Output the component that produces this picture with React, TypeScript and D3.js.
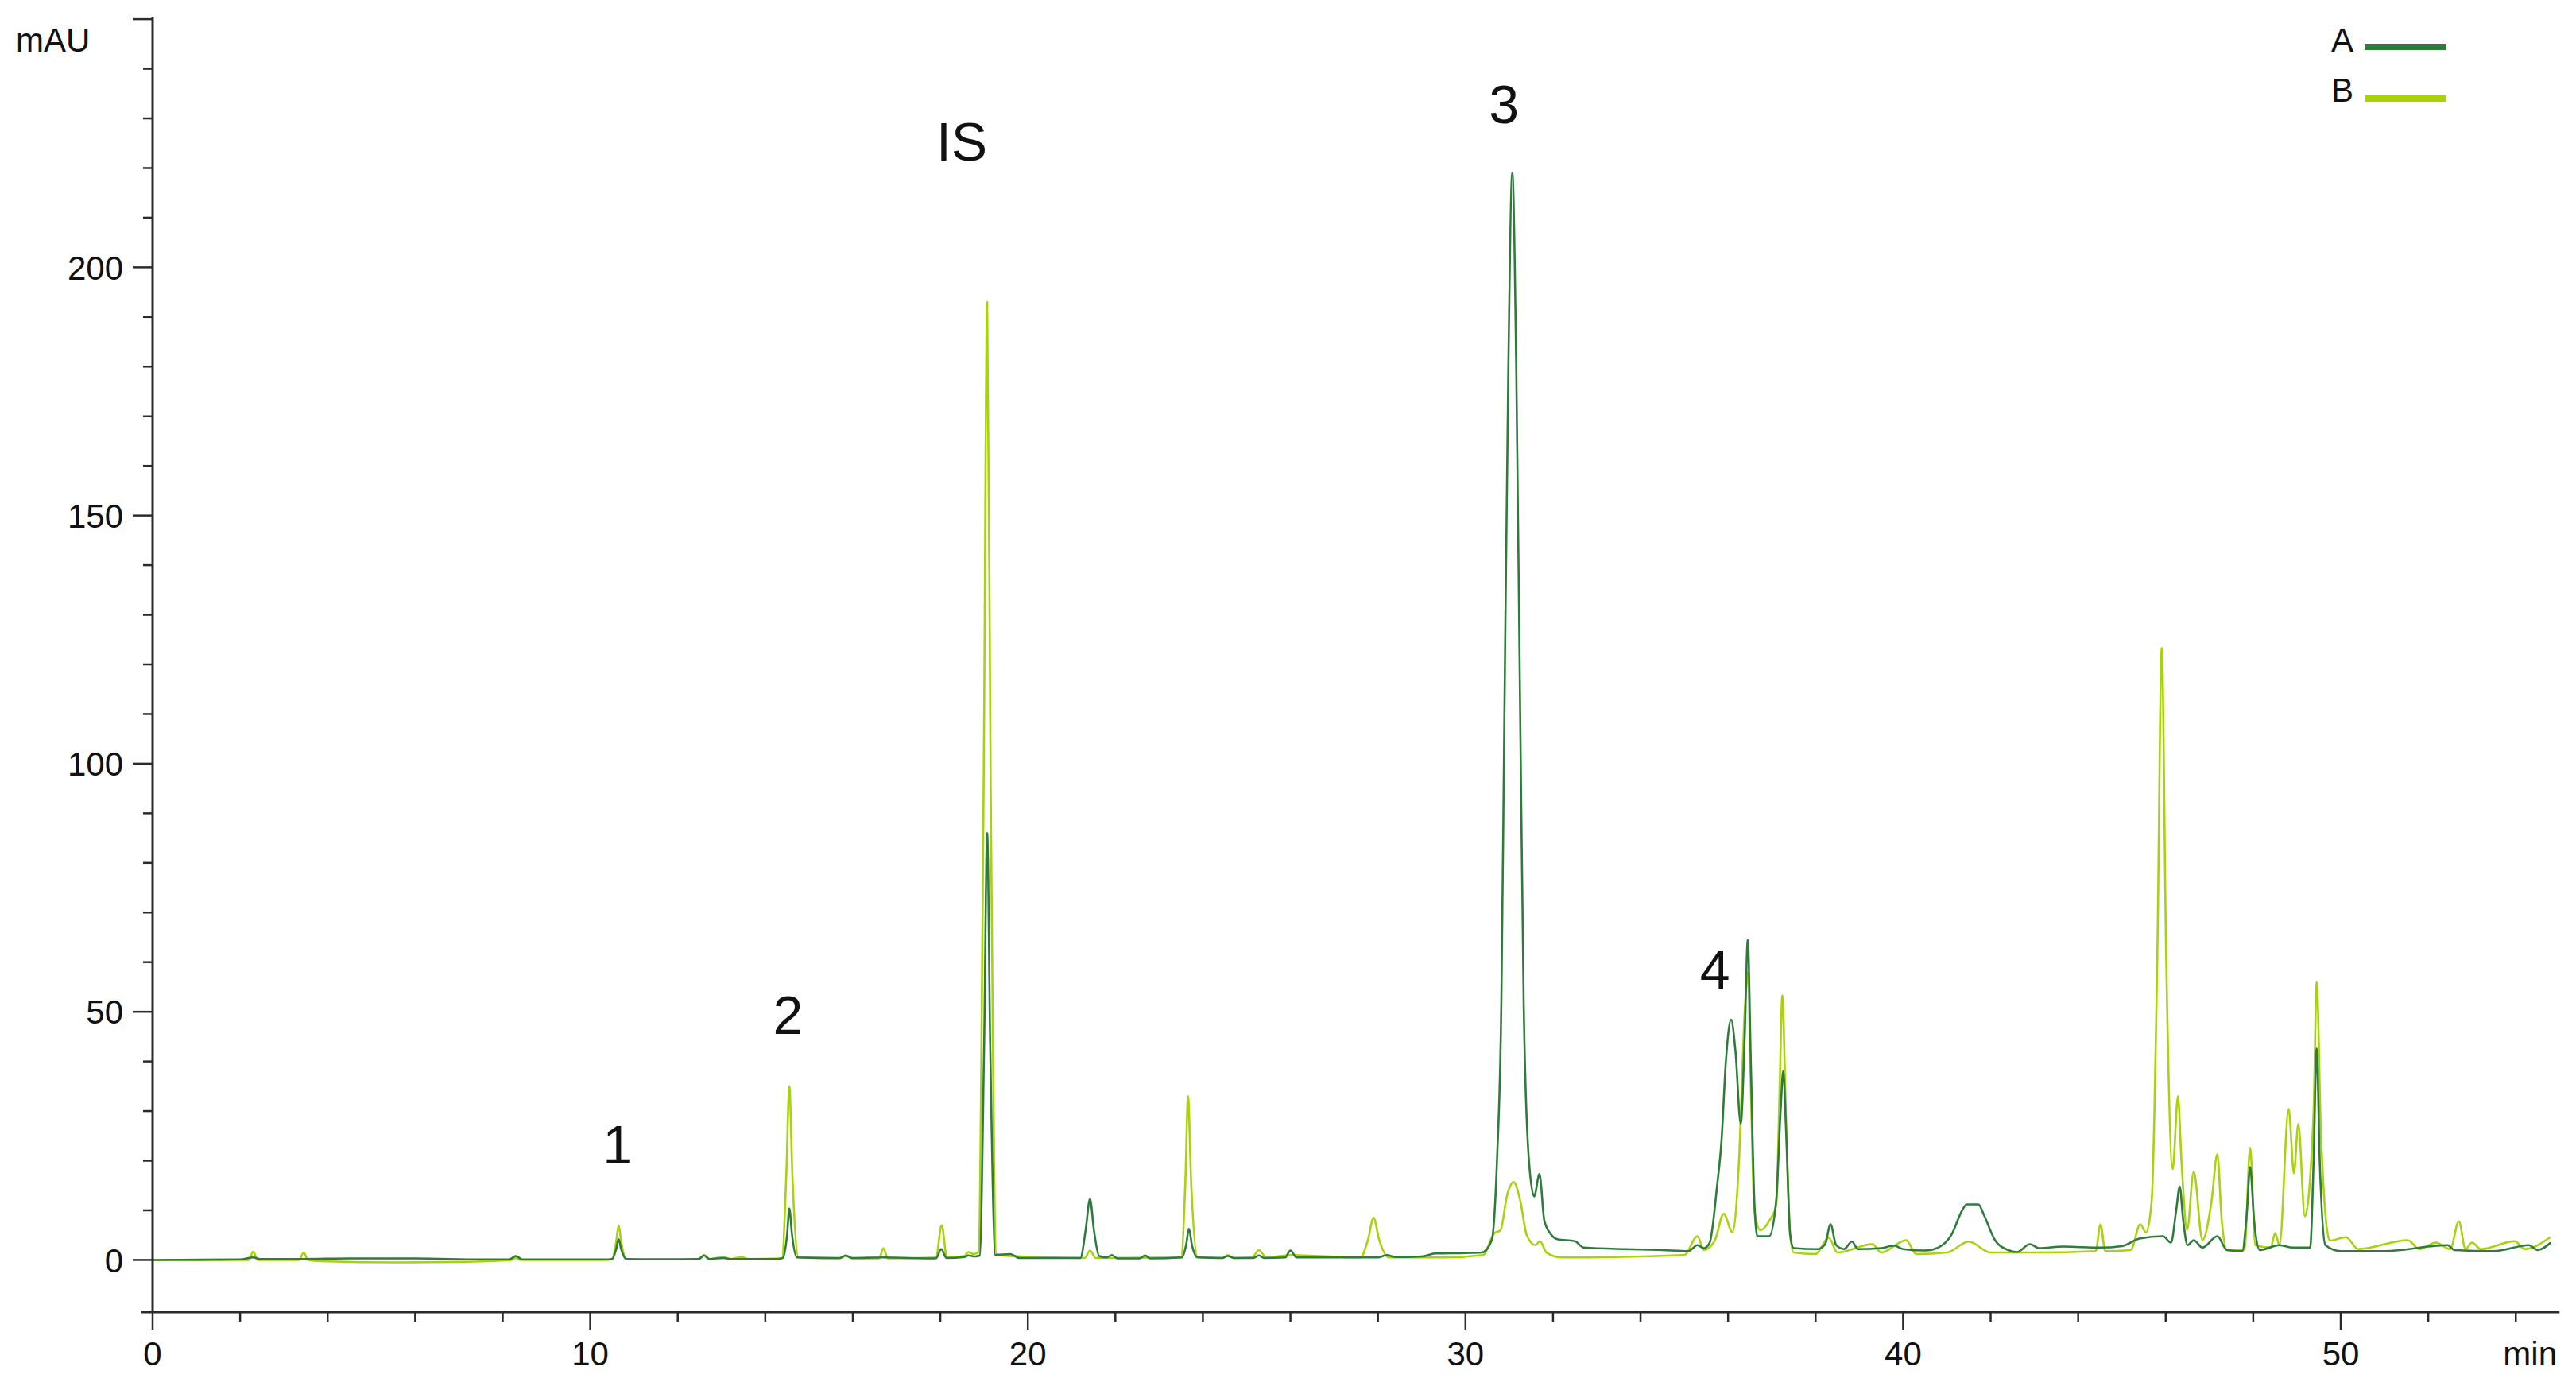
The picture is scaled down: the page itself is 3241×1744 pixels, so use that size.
import React, { useEffect } from "react";
import * as d3 from "d3";

// Chromatogram A (dark green): [retention time (min), absorbance (mAU)]
const seriesA: [number, number][] = [
  [0, 0], [2.0, 0.1], [2.3, 0.5], [2.45, 0.2], [3.4, 0.2], [4.5, 0.3], [6.0, 0.3], [7.5, 0.1],
  [8.15, 0.1], [8.3, 0.8], [8.45, 0.1], [10.35, 0.1],
  [10.5, 0.2], [10.59, 2.1], [10.65, 4.2], [10.71, 2.1], [10.82, 0.2],
  [11.5, 0.1], [12.48, 0.2], [12.6, 0.9], [12.72, 0.2], [13.04, 0.4], [13.2, 0.2], [14.3, 0.2],
  [14.4, 0.4], [14.5, 5.2], [14.55, 10.4], [14.61, 5.2], [14.72, 0.5],
  [15.7, 0.4], [15.84, 0.9], [15.98, 0.4], [16.7, 0.5], [17.9, 0.3], [18.02, 2.2], [18.14, 0.4],
  [18.55, 0.6], [18.64, 0.9], [18.8, 0.7],
  [18.9, 0.9], [19.0, 43], [19.07, 86], [19.14, 43], [19.26, 1.0],
  [19.6, 1.2], [19.8, 0.4], [21.2, 0.4],
  [21.32, 6], [21.42, 12.3], [21.51, 6], [21.63, 0.8],
  [21.8, 0.5], [21.92, 1.0], [22.05, 0.3], [22.55, 0.3], [22.68, 0.9], [22.8, 0.3],
  [23.52, 0.5], [23.62, 3.2], [23.68, 6.3], [23.75, 3.0], [23.88, 0.5],
  [24.45, 0.4], [24.57, 0.8], [24.7, 0.4], [25.15, 0.4], [25.28, 0.9], [25.4, 0.4],
  [25.88, 0.5], [26.0, 1.9], [26.14, 0.5], [28.0, 0.5], [28.2, 1.0], [28.4, 0.6],
  [29.0, 0.7], [29.3, 1.3], [30.0, 1.4], [30.37, 1.5],
  [30.6, 4], [30.72, 20], [30.82, 52], [30.89, 110], [30.98, 180], [31.07, 219],
  [31.16, 180], [31.25, 110], [31.33, 52], [31.45, 20], [31.57, 12.8], [31.69, 17.3],
  [31.8, 8], [31.95, 5.2], [32.1, 4.2], [32.5, 3.8], [32.7, 2.5], [34.5, 2.0], [35.1, 1.8],
  [35.3, 3.0], [35.45, 2.4], [35.58, 3.5],
  [35.75, 15], [35.85, 24], [35.95, 40], [36.07, 48.4], [36.17, 42], [36.29, 27.5],
  [36.38, 45], [36.45, 64.5], [36.52, 40], [36.6, 12], [36.67, 4.8], [36.94, 4.8],
  [37.1, 12], [37.2, 30], [37.26, 38.1], [37.33, 25], [37.42, 5], [37.5, 2.4],
  [38.05, 2.2], [38.22, 3.2], [38.34, 7.2], [38.47, 3], [38.65, 2.2], [38.83, 3.7], [38.97, 2.2],
  [39.5, 2.4], [39.8, 2.9], [40.0, 2.2], [40.5, 1.9], [40.8, 2.5], [41.1, 5],
  [41.35, 10], [41.45, 11.2], [41.72, 11.2], [41.85, 9], [42.1, 4], [42.4, 2], [42.6, 1.6],
  [42.9, 3.2], [43.1, 2.4], [43.66, 2.7], [44.5, 2.5], [45.0, 2.8], [45.4, 4.3],
  [45.94, 4.8], [46.12, 3.5], [46.24, 10], [46.32, 14.8], [46.4, 8], [46.5, 3.0],
  [46.64, 4.0], [46.84, 2.5], [47.18, 4.8], [47.4, 2.0], [47.75, 1.8],
  [47.85, 9], [47.93, 18.7], [48.02, 8], [48.15, 2], [48.6, 3], [48.9, 2.5], [49.3, 2.5],
  [49.38, 20], [49.45, 42.6], [49.52, 20], [49.65, 3], [50.0, 1.8], [51.0, 1.8],
  [52.44, 3], [52.6, 2], [53.5, 1.8], [54.3, 3], [54.5, 2], [54.8, 3.5],
];

// Chromatogram B (light green)
const seriesB: [number, number][] = [
  [0, 0], [2.2, 0], [2.3, 1.7], [2.4, 0], [3.35, 0], [3.45, 1.5], [3.55, 0], [4.0, -0.3],
  [5.5, -0.5], [7.0, -0.4], [8.2, 0], [8.3, 0.4], [8.4, 0], [10.4, 0],
  [10.5, 0.2], [10.59, 3.5], [10.65, 7.0], [10.71, 3.5], [10.82, 0.2],
  [12.48, 0.2], [12.6, 1.0], [12.72, 0.2], [13.04, 0.6], [13.2, 0.2], [13.46, 0.6], [13.6, 0.2],
  [14.38, 0.3], [14.48, 17], [14.55, 35], [14.62, 17], [14.76, 0.5],
  [15.7, 0.3], [15.84, 0.8], [16.0, 0.3], [16.6, 0.3], [16.7, 2.4], [16.8, 0.3],
  [17.9, 0.5], [18.03, 7], [18.15, 0.6], [18.55, 0.8], [18.64, 1.6], [18.75, 1.2],
  [18.87, 1.5], [18.99, 96], [19.07, 193], [19.15, 96], [19.28, 1.2],
  [19.6, 0.8], [21.3, 0.4], [21.42, 1.9], [21.55, 0.4],
  [23.5, 0.5], [23.6, 16], [23.66, 33], [23.73, 16], [23.88, 0.6],
  [24.45, 0.4], [24.57, 1.0], [24.7, 0.4], [25.12, 0.5], [25.28, 2.0], [25.45, 0.5],
  [26.0, 1.0], [27.6, 0.5], [27.77, 4], [27.9, 8.5], [28.03, 4], [28.25, 0.5],
  [29.5, 0.5], [30.4, 1.0], [30.66, 5.4], [30.8, 6], [30.95, 13], [31.1, 15.7],
  [31.25, 12], [31.4, 5], [31.6, 3], [31.7, 3.8], [31.85, 1.5], [32.2, 0.5], [35.0, 1.0],
  [35.3, 4.8], [35.45, 2], [35.7, 4], [35.9, 9.3], [36.1, 5.6], [36.25, 20],
  [36.38, 50], [36.45, 58], [36.52, 35], [36.6, 10], [36.74, 6], [36.95, 8], [37.1, 11],
  [37.18, 35], [37.24, 53.3], [37.32, 30], [37.42, 5], [37.5, 1.5],
  [38.0, 1.2], [38.3, 4.5], [38.5, 1.5], [39.3, 3.2], [39.5, 1.5], [40.07, 4], [40.3, 1.2],
  [41.0, 1.5], [41.5, 3.7], [42.0, 1.5], [43.0, 1.5], [44.4, 1.8], [44.51, 7.2], [44.62, 1.8],
  [45.2, 2], [45.42, 7.2], [45.55, 5.5], [45.68, 12], [45.81, 62], [45.91, 123.3],
  [46.01, 62], [46.16, 18.3], [46.28, 33], [46.36, 20], [46.49, 6.1], [46.64, 17.8],
  [46.84, 4], [47.05, 12], [47.18, 21.3], [47.28, 8], [47.4, 2], [47.8, 2],
  [47.93, 22.6], [48.05, 3], [48.4, 2.5], [48.5, 5.4], [48.6, 3], [48.81, 30.4],
  [48.93, 17.5], [49.03, 27.4], [49.18, 8.8], [49.38, 30], [49.45, 56], [49.55, 25],
  [49.75, 3.9], [50.12, 4.6], [50.4, 2.2], [51.53, 4], [51.8, 2.2], [52.17, 3.5],
  [52.5, 2.2], [52.7, 7.8], [52.85, 2.2], [53.0, 3.5], [53.2, 2.2], [53.98, 3.8],
  [54.2, 2.2], [54.79, 4.6],
];

const xTicksMajor = [0, 10, 20, 30, 40, 50];
const xTicksMinor = [2, 4, 6, 8, 12, 14, 16, 18, 22, 24, 26, 28, 32, 34, 36, 38, 42, 44, 46, 48, 52, 54];
const yTickLabels = [0, 50, 100, 150, 200];
const yTicksMajor = [0, 50, 100, 150, 200, 250];
const yTicksMinor = [10, 20, 30, 40, 60, 70, 80, 90, 110, 120, 130, 140, 160, 170, 180, 190, 210, 220, 230, 240];

const peakLabels = [
  { text: "1", t: 10.63, v: 19.5 },
  { text: "2", t: 14.52, v: 45.6 },
  { text: "IS", t: 18.49, v: 221.5 },
  { text: "3", t: 30.88, v: 229 },
  { text: "4", t: 35.7, v: 54.6 },
];

const legendItems = [
  { name: "A", color: "#2e7b3b" },
  { name: "B", color: "#a8d20c" },
];

const W = 3241;
const H = 1744;
const FONT = "'Liberation Sans', Arial, sans-serif";

export default function App() {
  useEffect(() => {
    document.body.style.margin = "0";
    document.body.style.overflow = "hidden";
  }, []);

  const x = d3.scaleLinear().domain([0, 55]).range([192, 192 + 55 * 55.06]);
  const y = d3.scaleLinear().domain([-10.5, 250.5]).range([1651, 21]);

  const line = d3
    .line<[number, number]>()
    .x((d) => x(d[0]))
    .y((d) => y(d[1]))
    .curve(d3.curveMonotoneX);

  const axisColor = "#2b2b2b";
  const x0 = x(0);
  const yBottom = y(-10.5);

  return (
    <svg width={W} height={H} style={{ display: "block", background: "#fff" }} fontFamily={FONT}>
      {/* series */}
      <path d={line(seriesB) || ""} fill="none" stroke={legendItems[1].color} strokeWidth={2.6} strokeLinejoin="round" />
      <path d={line(seriesA) || ""} fill="none" stroke={legendItems[0].color} strokeWidth={2.6} strokeLinejoin="round" />

      {/* y axis */}
      <line x1={x0} x2={x0} y1={y(250.5)} y2={yBottom} stroke={axisColor} strokeWidth={3} />
      {yTicksMajor.map((v) => (
        <line key={"ym" + v} x1={x0 - 25} x2={x0} y1={y(v)} y2={y(v)} stroke={axisColor} strokeWidth={2.5} />
      ))}
      {yTicksMinor.map((v) => (
        <line key={"yn" + v} x1={x0 - 12} x2={x0} y1={y(v)} y2={y(v)} stroke={axisColor} strokeWidth={2.5} />
      ))}
      {yTickLabels.map((v) => (
        <text key={"yl" + v} x={155} y={y(v)} dy="0.36em" textAnchor="end" fontSize={42} fill="#111">
          {v}
        </text>
      ))}
      <text x={20} y={65} fontSize={42} fill="#111">mAU</text>

      {/* x axis */}
      <line x1={178} x2={x(55)} y1={yBottom} y2={yBottom} stroke={axisColor} strokeWidth={3} />
      {xTicksMajor.map((t) => (
        <line key={"xm" + t} x1={x(t)} x2={x(t)} y1={yBottom} y2={yBottom + 22} stroke={axisColor} strokeWidth={2.5} />
      ))}
      {xTicksMinor.map((t) => (
        <line key={"xn" + t} x1={x(t)} x2={x(t)} y1={yBottom} y2={yBottom + 12} stroke={axisColor} strokeWidth={2.5} />
      ))}
      {xTicksMajor.map((t) => (
        <text key={"xl" + t} x={x(t)} y={1718} textAnchor="middle" fontSize={42} fill="#111">
          {t}
        </text>
      ))}
      <text x={3217} y={1718} textAnchor="end" fontSize={42} fill="#111">min</text>

      {/* peak labels */}
      {peakLabels.map((p) => (
        <text key={p.text} x={x(p.t)} y={y(p.v)} textAnchor="middle" fontSize={68} fill="#111">
          {p.text}
        </text>
      ))}

      {/* legend */}
      {legendItems.map((it, i) => (
        <g key={it.name}>
          <text x={2947} y={65 + i * 63} textAnchor="middle" fontSize={42} fill="#111">
            {it.name}
          </text>
          <line x1={2975} x2={3078} y1={59 + i * 65} y2={59 + i * 65} stroke={it.color} strokeWidth={8} />
        </g>
      ))}
    </svg>
  );
}
